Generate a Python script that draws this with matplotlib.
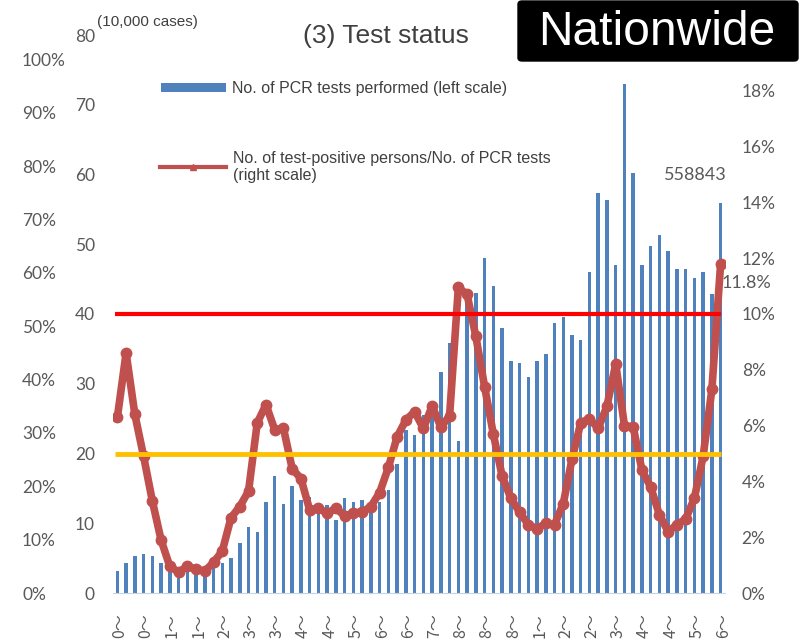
import numpy as np
import matplotlib
matplotlib.use("Agg")
from matplotlib import pyplot as plt
from matplotlib.lines import Line2D
from matplotlib.patches import Patch, FancyBboxPatch

# PCR tests per week (10,000 cases), left scale
tests = [3.1, 4.3, 5.3, 5.6, 5.3, 4.3, 3.3, 2.8, 3.1, 2.9,
         3.2, 4.4, 4.3, 5.0, 7.2, 9.5, 8.8, 13.0, 16.8, 12.7,
         15.3, 13.3, 13.8, 12.6, 12.6, 10.4, 13.6, 13.0, 13.3, 12.4,
         13.0, 14.7, 18.5, 23.4, 22.6, 25.5, 26.5, 31.7, 35.8, 21.8,
         43.0, 43.0, 48.0, 44.0, 38.0, 33.2, 33.0, 31.0, 33.3, 34.2,
         38.7, 39.5, 37.0, 36.3, 46.0, 57.3, 56.3, 47.0, 73.0, 60.2,
         47.0, 49.8, 51.3, 49.1, 46.4, 46.4, 45.2, 46.0, 42.9, 55.8843]

# positives / tests (%), right scale
rate = [6.3, 8.6, 6.4, 4.9, 3.3, 1.9, 0.95, 0.75, 0.95, 0.85,
        0.78, 1.1, 1.5, 2.7, 3.1, 3.65, 6.1, 6.75, 5.85, 5.9,
        4.45, 4.1, 2.97, 3.05, 2.85, 3.05, 2.75, 2.87, 2.9, 3.1,
        3.6, 4.5, 5.6, 6.2, 6.5, 5.9, 6.7, 5.95, 6.35, 10.95,
        10.7, 9.2, 7.4, 5.7, 4.2, 3.4, 2.9, 2.45, 2.3, 2.5,
        2.45, 3.2, 4.8, 6.1, 6.25, 5.9, 6.7, 8.2, 6.0, 5.95,
        4.4, 3.8, 2.8, 2.2, 2.45, 2.65, 3.4, 4.9, 7.3, 11.8]

# what is left visible of the rotated date labels (every 3rd week)
tick_tail = ["0", "0", "1", "1", "2", "3", "3", "4", "4", "5", "6", "6",
             "7", "8", "8", "8", "1", "2", "2", "3", "4", "4", "5", "6"]

left_ticks = [0, 10, 20, 30, 40, 50, 60, 70, 80]
right_ticks = [0, 2, 4, 6, 8, 10, 12, 14, 16, 18]
outer_ticks = [0, 10, 20, 30, 40, 50, 60, 70, 80, 90, 100]

last_tests = 558843
last_rate = 11.8
red_level = 10     # % (right scale)
yellow_level = 5   # % (right scale)

blue = "#4F81BD"
dark_red = "#C0504D"
grey = "#595959"
txt = "#404040"

plt.rcParams["font.family"] = ["Lato", "DejaVu Sans"]

fig = plt.figure(figsize=(8.02, 6.41), dpi=100)
rect = [113 / 802, 48 / 641, 612 / 802, 558 / 641]

# leftover percent axis on the far left
ax3 = fig.add_axes(rect)
ax3.set_ylim(0, 104.6)
ax3.set_xticks([])
ax3.set_yticks(outer_ticks)
ax3.set_yticklabels([f"{t}%" for t in outer_ticks])
ax3.tick_params(axis="y", length=0, pad=65.5, labelsize=12.5, labelcolor=grey)
for lab in ax3.get_yticklabels():
    lab.set_horizontalalignment("left")
for s in ax3.spines.values():
    s.set_visible(False)
ax3.patch.set_visible(False)

ax = fig.add_axes(rect)
ax.patch.set_visible(False)
x = np.arange(len(tests))
ax.bar(x, tests, width=0.4, color=blue, zorder=2)
ax.set_xlim(-0.5, len(tests) - 0.5)
ax.set_ylim(0, 80)
ax.set_yticks(left_ticks)
ax.tick_params(axis="y", length=0, pad=13, labelsize=12.5, labelcolor=grey)
ax.set_xticks(x[::3] + 0.3)
ax.set_xticklabels([t + "〜" for t in tick_tail], rotation=90,
                   family=["Noto Sans CJK JP", "DejaVu Sans"])
ax.tick_params(axis="x", length=0, pad=14.5, labelsize=11.5, labelcolor=grey)
for side in ["top", "left", "right"]:
    ax.spines[side].set_visible(False)
ax.spines["bottom"].set_color("#C9D4E2")

ax.annotate(f"{last_tests}", xy=(x[-1], last_tests / 1e4), xytext=(-25, 28),
            textcoords="offset pixels", ha="center", va="center",
            fontsize=13, color=grey)

ax2 = ax.twinx()
ax2.set_ylim(0, 20)
ax2.plot(x, rate, color=dark_red, lw=5.5, marker="o", ms=7.5, zorder=3,
         solid_capstyle="round", solid_joinstyle="round")
ax2.hlines(red_level, -0.25, x[-1], color="#FF0000", lw=3, zorder=4)
ax2.hlines(yellow_level, -0.25, x[-1], color="#FFC000", lw=3.5, zorder=4)
ax2.set_yticks(right_ticks)
ax2.set_yticklabels([f"{t}%" for t in right_ticks])
ax2.tick_params(axis="y", length=0, pad=12, labelsize=12.5, labelcolor=grey)
for lab in ax2.get_yticklabels():
    lab.set_horizontalalignment("left")
for s in ax2.spines.values():
    s.set_visible(False)
ax2.annotate(f"{last_rate}%", xy=(x[-1], last_rate), xytext=(26, -19),
             textcoords="offset pixels", ha="center", va="center",
             fontsize=13, color=grey)

# titles
fig.text(386 / 802, 1 - 43 / 641, "(3) Test status", ha="center", va="baseline",
         fontsize=19, family="Liberation Sans", color=txt)
fig.text(97 / 802, 1 - 22 / 641, "(10,000 cases)", ha="left", va="center",
         fontsize=11, family="Liberation Sans", color=txt)
box = FancyBboxPatch((518 / 802, 1 - 61 / 641), 280 / 802, 60 / 641,
                     boxstyle="round,pad=0,rounding_size=0.005",
                     transform=fig.transFigure, facecolor="black", edgecolor="black")
fig.add_artist(box)
fig.text(657 / 802, 1 - 45 / 641, "Nationwide", ha="center", va="baseline",
         fontsize=34.5, family="Liberation Sans", color="white")

# legends
fig.legend(handles=[Patch(facecolor=blue)],
           labels=["No. of PCR tests performed (left scale)"],
           loc="center left", bbox_to_anchor=(161 / 802, 1 - 89 / 641),
           frameon=False, borderpad=0, borderaxespad=0,
           handlelength=4.07, handleheight=0.5, handletextpad=0.4,
           prop=dict(family="Liberation Sans", size=11.5), labelcolor=txt)
fig.legend(handles=[Line2D([], [], color=dark_red, lw=3, marker="^", ms=4)],
           labels=["No. of test-positive persons/No. of PCR tests\n(right scale)"],
           loc="center left", bbox_to_anchor=(160 / 802, 1 - 167 / 641),
           frameon=False, borderpad=0, borderaxespad=0,
           handlelength=4.15, handletextpad=0.4,
           prop=dict(family="Liberation Sans", size=11.5), labelcolor=txt)

fig.savefig("out.png", dpi=100)
